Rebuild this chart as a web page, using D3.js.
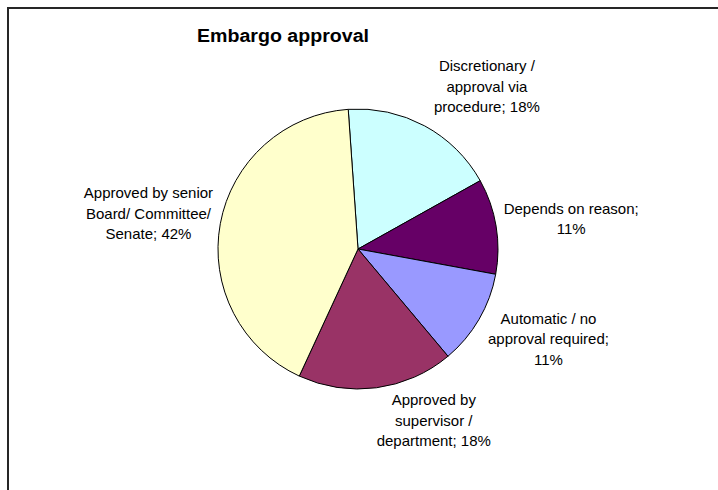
<!DOCTYPE html>
<html>
<head>
<meta charset="utf-8">
<script src="https://cdn.jsdelivr.net/npm/d3@7"></script>
<style>
  body { margin: 0; background: #fff; }
  svg { display: block; font-family: "Liberation Sans", Arial, sans-serif; }
</style>
</head>
<body>
<div id="chart"></div>
<script>
/* --- data --- */
const categories = [
  "Discretionary / approval via procedure",
  "Depends on reason",
  "Automatic / no approval required",
  "Approved by supervisor / department",
  "Approved by senior Board/ Committee/ Senate"
];
const values = [18, 11, 11, 18, 42];
const labelLines = [
  ["Discretionary /", "approval via", "procedure; 18%"],
  ["Depends on reason;", "11%"],
  ["Automatic / no", "approval required;", "11%"],
  ["Approved by", "supervisor /", "department; 18%"],
  ["Approved by senior", "Board/ Committee/", "Senate; 42%"]
];
const colors = ["#CCFFFF", "#660066", "#9999FF", "#993366", "#FFFFCC"];
const title = "Embargo approval";

/* --- layout --- */
const width = 718, height = 490;
const center = { x: 358, y: 249 };
const radius = 140;
const startDeg = -4;
const fontSize = 15, lineHeight = 20.5;
// label nudges from the mid-angle point (px)
const labelNudge = [[29, 22], [6, 4], [9, -16], [48, -37], [-3, 2]];

const svg = d3.select("#chart").append("svg")
  .attr("width", width)
  .attr("height", height);

// frame (only top and left edges are inside the picture)
svg.append("rect")
  .attr("x", 8).attr("y", 8)
  .attr("width", width + 20).attr("height", height + 20)
  .attr("fill", "none")
  .attr("stroke", "#262626")
  .attr("stroke-width", 2);

svg.append("text")
  .attr("x", 197).attr("y", 42)
  .attr("font-size", "18px")
  .attr("font-weight", "bold")
  .attr("fill", "#000")
  .attr("textLength", 172)
  .attr("lengthAdjust", "spacingAndGlyphs")
  .text(title);

const start = startDeg * Math.PI / 180;
const pie = d3.pie().sort(null).startAngle(start).endAngle(start + 2 * Math.PI);
const arcs = pie(values);

const arc = d3.arc().innerRadius(0).outerRadius(radius);
const labelArc = d3.arc().innerRadius(210).outerRadius(210);

const g = svg.append("g").attr("transform", `translate(${center.x},${center.y})`);

g.selectAll("path.slice")
  .data(arcs)
  .enter()
  .append("path")
  .attr("class", "slice")
  .attr("d", arc)
  .attr("fill", (d, i) => colors[i])
  .attr("stroke", "#000")
  .attr("stroke-width", 1);

g.selectAll("text.lbl")
  .data(arcs)
  .enter()
  .append("text")
  .attr("class", "lbl")
  .attr("text-anchor", "middle")
  .attr("font-size", fontSize + "px")
  .attr("fill", "#000")
  .each(function (d, i) {
    const c = labelArc.centroid(d);
    const x = c[0] + labelNudge[i][0];
    const yc = c[1] + labelNudge[i][1];
    const lines = labelLines[i];
    const y0 = yc - (lines.length - 1) * lineHeight / 2 + fontSize * 0.36;
    d3.select(this).selectAll("tspan")
      .data(lines)
      .enter()
      .append("tspan")
      .attr("x", x)
      .attr("y", (l, k) => y0 + k * lineHeight)
      .text((l) => l);
  });
</script>
</body>
</html>
